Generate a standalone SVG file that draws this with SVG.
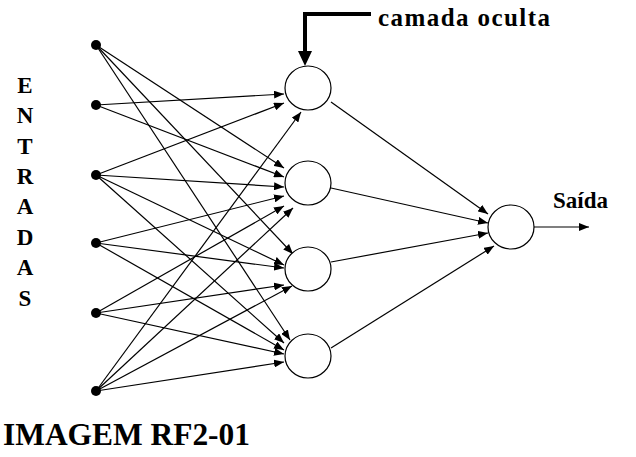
<svg xmlns="http://www.w3.org/2000/svg" width="636" height="457" viewBox="0 0 636 457">
<style>
.edge{stroke:#000;stroke-width:1.2;fill:none;marker-end:url(#ah)}
.node{fill:#fff;stroke:#000;stroke-width:1.2}
.dot{fill:#000}
text{font-family:'Liberation Serif','DejaVu Serif',serif;font-weight:bold;fill:#000}
</style>
<defs>
<marker id="ah" viewBox="0 0 10 8" refX="10" refY="4" markerWidth="10" markerHeight="8" markerUnits="userSpaceOnUse" orient="auto">
<path d="M0,0 L10,4 L0,8 z" fill="#000"/>
</marker>
</defs>
<g id="connectors">
<line class="edge" x1="96" y1="45" x2="284" y2="168"/>
<line class="edge" x1="96" y1="45" x2="293" y2="254"/>
<line class="edge" x1="96" y1="45" x2="290" y2="340"/>
<line class="edge" x1="96" y1="105" x2="284" y2="94"/>
<line class="edge" x1="96" y1="105" x2="284" y2="177"/>
<line class="edge" x1="96" y1="175" x2="284" y2="103"/>
<line class="edge" x1="96" y1="175" x2="284" y2="187"/>
<line class="edge" x1="96" y1="175" x2="284" y2="265"/>
<line class="edge" x1="96" y1="175" x2="284" y2="343"/>
<line class="edge" x1="96" y1="243" x2="284" y2="196"/>
<line class="edge" x1="96" y1="243" x2="284" y2="268"/>
<line class="edge" x1="96" y1="243" x2="284" y2="350"/>
<line class="edge" x1="96" y1="313" x2="284" y2="206"/>
<line class="edge" x1="96" y1="313" x2="284" y2="285"/>
<line class="edge" x1="96" y1="313" x2="284" y2="354"/>
<line class="edge" x1="96" y1="391" x2="301" y2="112"/>
<line class="edge" x1="96" y1="391" x2="293" y2="208"/>
<line class="edge" x1="96" y1="391" x2="292" y2="286"/>
<line class="edge" x1="96" y1="391" x2="284" y2="362"/>
<line class="edge" x1="331" y1="102" x2="488" y2="214"/>
<line class="edge" x1="331" y1="188" x2="488" y2="223"/>
<line class="edge" x1="331" y1="262" x2="488" y2="233"/>
<line class="edge" x1="331" y1="348" x2="494" y2="246"/>
<line class="edge" x1="534" y1="227" x2="589" y2="227"/>
<polyline points="371,14 305,14 305,52" fill="none" stroke="#000" stroke-width="4"/>
<path d="M298,51 L312,51 L305,66 z" fill="#000"/>
</g>
<g id="inputs">
<circle id="in1" class="dot" cx="96" cy="45" r="5"/>
<circle id="in2" class="dot" cx="96" cy="105" r="5"/>
<circle id="in3" class="dot" cx="96" cy="175" r="5"/>
<circle id="in4" class="dot" cx="96" cy="243" r="5"/>
<circle id="in5" class="dot" cx="96" cy="313" r="5"/>
<circle id="in6" class="dot" cx="96" cy="391" r="5"/>
</g>
<g id="h1"><ellipse class="node" cx="308" cy="88" rx="23" ry="22"/></g>
<g id="h2"><ellipse class="node" cx="308" cy="183" rx="23" ry="22"/></g>
<g id="h3"><ellipse class="node" cx="308" cy="269" rx="23" ry="22"/></g>
<g id="h4"><ellipse class="node" cx="308" cy="356" rx="23" ry="22"/></g>
<g id="out"><ellipse class="node" cx="511" cy="227" rx="23" ry="22"/></g>
<g id="labels">
<text x="378" y="26" font-size="25" textLength="172" lengthAdjust="spacing">camada oculta</text>
<text x="553" y="208" font-size="23" textLength="55" lengthAdjust="spacing">Saída</text>
<text x="25" y="93" font-size="23" text-anchor="middle">E</text>
<text x="25" y="123" font-size="23" text-anchor="middle">N</text>
<text x="25" y="154" font-size="23" text-anchor="middle">T</text>
<text x="25" y="184" font-size="23" text-anchor="middle">R</text>
<text x="25" y="214" font-size="23" text-anchor="middle">A</text>
<text x="25" y="245" font-size="23" text-anchor="middle">D</text>
<text x="25" y="275" font-size="23" text-anchor="middle">A</text>
<text x="25" y="306" font-size="23" text-anchor="middle">S</text>
<text x="3" y="445" font-size="32" textLength="247" lengthAdjust="spacingAndGlyphs">IMAGEM RF2-01</text>
</g>
</svg>
